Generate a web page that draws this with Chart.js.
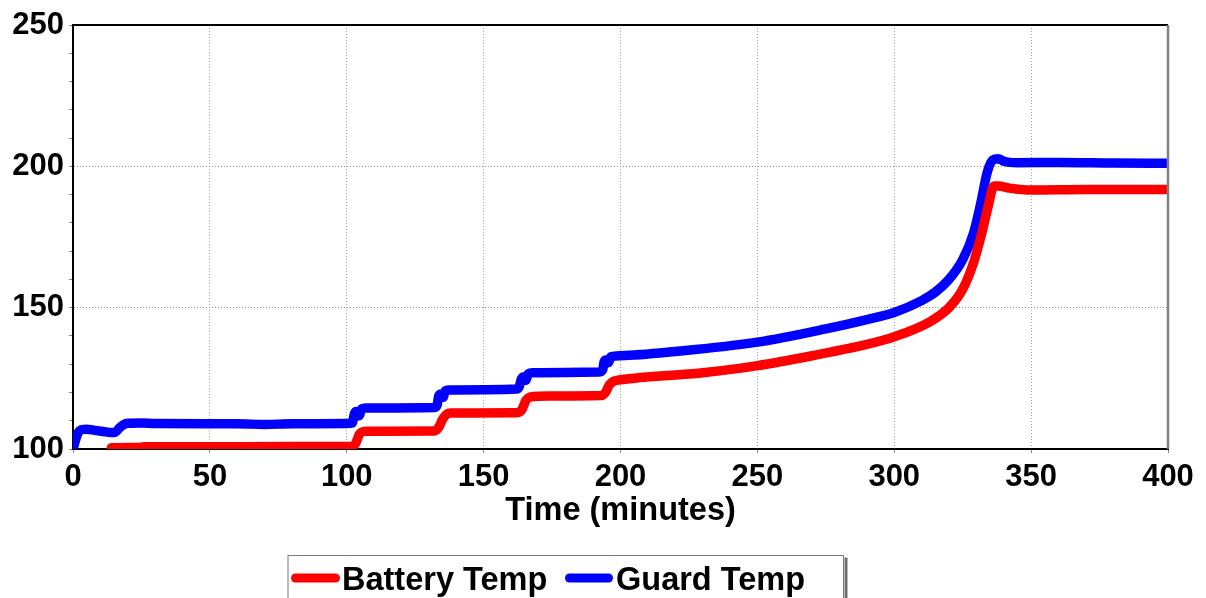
<!DOCTYPE html>
<html>
<head>
<meta charset="utf-8">
<script src="https://cdn.jsdelivr.net/npm/chart.js@4/dist/chart.umd.min.js"></script>
<style>
  html, body { margin: 0; padding: 0; background: #fff; }
  #wrap { width: 1206px; height: 598px; position: relative; }
</style>
</head>
<body>
<div id="wrap"><canvas id="c" width="1206" height="598"></canvas></div>
<script>
// ---- data ----
const seriesLabels = ['Battery Temp', 'Guard Temp'];
const xAxisTitle = 'Time (minutes)';
const xTicks = [0, 50, 100, 150, 200, 250, 300, 350, 400];
const yTicks = [100, 150, 200, 250];

const batteryTime = [14, 20, 24, 26, 60, 100, 102.5, 103.5, 104.5, 105.5, 107, 132, 133.5, 135, 136.5, 138, 162, 164, 165.5, 167, 170, 193, 194.5, 196, 197.5, 200, 230, 250, 270, 290, 300, 313, 320, 325, 329, 331.5, 334, 336.5, 338, 342, 350, 370, 400];
const batteryTemp = [100.4, 100.5, 100.5, 100.8, 100.8, 100.9, 101, 102.5, 105, 106, 106.3, 106.4, 107.5, 110.5, 112.3, 112.7, 112.8, 114, 117.3, 118.4, 118.7, 118.9, 120, 122.8, 124, 124.5, 127, 129.5, 133, 137, 139.7, 145, 150, 156.5, 166, 174.5, 184.5, 193, 193, 192.3, 191.6, 191.8, 191.8];

const guardTime = [0, 1.2, 2, 3, 5, 8, 11, 14, 15.5, 17, 18.5, 20, 25, 30, 60, 70, 80, 100, 102, 102.8, 103.5, 104.5, 105.5, 107, 132, 133, 133.6, 134.5, 135.2, 136, 138, 150, 162, 163, 163.8, 164.6, 165.4, 166.3, 168, 180, 192, 193.5, 194, 194.8, 195.6, 196.5, 200, 220, 250, 275, 290, 300, 310, 315, 320, 325, 329, 331.5, 334, 336, 338, 340, 345, 360, 380, 400];
const guardTemp = [100, 104, 106, 106.8, 107, 106.6, 106.2, 105.8, 106, 107.5, 108.6, 109.1, 109.2, 109, 108.9, 108.7, 108.9, 109, 109.2, 112.5, 113.3, 111.8, 114.2, 114.5, 114.7, 115.5, 118.8, 119.5, 118.3, 120.6, 120.9, 121, 121.2, 122, 124.8, 125.5, 124.3, 126.6, 127, 127.1, 127.2, 128, 130.8, 131.5, 130.5, 132.6, 133, 134.5, 137.8, 142.5, 145.8, 148.3, 152.5, 155.5, 160, 167, 176.5, 186.5, 198, 202.2, 202.7, 201.8, 201.3, 201.4, 201.2, 201.1];

const batteryColor = '#ff0000';
const guardColor = '#0000ff';

function toPoints(xs, ys) { return xs.map((x, i) => ({ x: x, y: ys[i] })); }

const FAMILY = "'Liberation Sans', Arial, sans-serif";
const TICK_FONT = { family: FAMILY, size: 31, weight: 'bold' };
const TITLE_FONT = { family: FAMILY, size: 32.5, weight: 'bold' };

const frame = {
  id: 'frame',
  afterDatasetsDraw(chart) {
    const { ctx, chartArea: a } = chart;
    ctx.save();
    ctx.strokeStyle = '#000';
    ctx.lineWidth = 2;
    ctx.beginPath(); ctx.moveTo(a.left, a.top); ctx.lineTo(a.right, a.top); ctx.stroke();
    ctx.strokeStyle = '#808080';
    ctx.lineWidth = 2.5;
    ctx.beginPath(); ctx.moveTo(a.right, a.top); ctx.lineTo(a.right, a.bottom); ctx.stroke();
    ctx.restore();
  }
};

const customLegend = {
  id: 'customLegend',
  afterDraw(chart) {
    const { ctx } = chart;
    const boxL = 288, boxT = 555.5, boxR = 843.5, boxB = 640;
    ctx.save();
    ctx.strokeStyle = '#7a7a7a';
    ctx.lineWidth = 1;
    ctx.strokeRect(boxL, boxT, boxR - boxL, boxB - boxT);
    ctx.fillStyle = '#707070';
    ctx.fillRect(boxR + 1, boxT + 2, 3, boxB - boxT);
    const items = [
      { x0: 291, x1: 340, tx: 342 },
      { x0: 565, x1: 613, tx: 616 }
    ];
    const cy = 578;
    chart.data.datasets.forEach((ds, i) => {
      const it = items[i];
      ctx.strokeStyle = ds.borderColor;
      ctx.lineWidth = 9;
      ctx.lineCap = 'round';
      ctx.beginPath(); ctx.moveTo(it.x0 + 4.5, cy); ctx.lineTo(it.x1 - 4.5, cy); ctx.stroke();
      ctx.fillStyle = '#000';
      ctx.font = `bold ${TITLE_FONT.size}px ${FAMILY}`;
      ctx.textBaseline = 'alphabetic';
      ctx.textAlign = 'left';
      ctx.fillText(ds.label, it.tx, 590);
    });
    ctx.restore();
  }
};

new Chart(document.getElementById('c'), {
  type: 'line',
  data: {
    datasets: [
      {
        label: seriesLabels[0],
        data: toPoints(batteryTime, batteryTemp),
        borderColor: batteryColor,
        backgroundColor: batteryColor,
        borderWidth: 9.5,
        pointRadius: 0,
        cubicInterpolationMode: 'monotone',
        borderCapStyle: 'round',
        borderJoinStyle: 'round',
        clip: 0
      },
      {
        label: seriesLabels[1],
        data: toPoints(guardTime, guardTemp),
        borderColor: guardColor,
        backgroundColor: guardColor,
        borderWidth: 9.5,
        pointRadius: 0,
        cubicInterpolationMode: 'monotone',
        borderCapStyle: 'round',
        borderJoinStyle: 'round',
        clip: 0
      }
    ]
  },
  options: {
    responsive: false,
    animation: false,
    devicePixelRatio: 1,
    layout: { padding: { left: 0, top: 25, right: 38, bottom: 0 } },
    plugins: {
      legend: { display: false },
      tooltip: { enabled: false }
    },
    scales: {
      x: {
        type: 'linear',
        min: xTicks[0],
        max: xTicks[xTicks.length - 1],
        afterFit(scale) { scale.height = 149; },
        afterBuildTicks(scale) { scale.ticks = xTicks.map(v => ({ value: v })); },
        ticks: { color: '#000', font: TICK_FONT, padding: 6, maxRotation: 0, autoSkip: false },
        grid: { color: '#a8a8a8', lineWidth: 1, tickColor: '#888', tickLength: 4, drawTicks: true },
        border: { color: '#000', width: 2, dash: [1, 2] },
        title: { display: true, text: xAxisTitle, color: '#000', font: TITLE_FONT, padding: { top: 0, bottom: 67 } }
      },
      y: {
        type: 'linear',
        min: yTicks[0],
        max: yTicks[yTicks.length - 1],
        afterFit(scale) { scale.width = 73; },
        ticks: {
          stepSize: 10,
          color: '#000',
          font: TICK_FONT,
          padding: 5,
          autoSkip: false,
          callback: (v) => (yTicks.includes(v) ? String(v) : '')
        },
        grid: {
          color: (c) => (c.tick && yTicks.includes(c.tick.value) ? '#8c8c8c' : 'rgba(0,0,0,0)'),
          lineWidth: 1,
          tickColor: '#888',
          tickLength: 4,
          drawTicks: true
        },
        border: { color: '#000', width: 2, dash: [1, 2] }
      }
    }
  },
  plugins: [frame, customLegend]
});
</script>
</body>
</html>
